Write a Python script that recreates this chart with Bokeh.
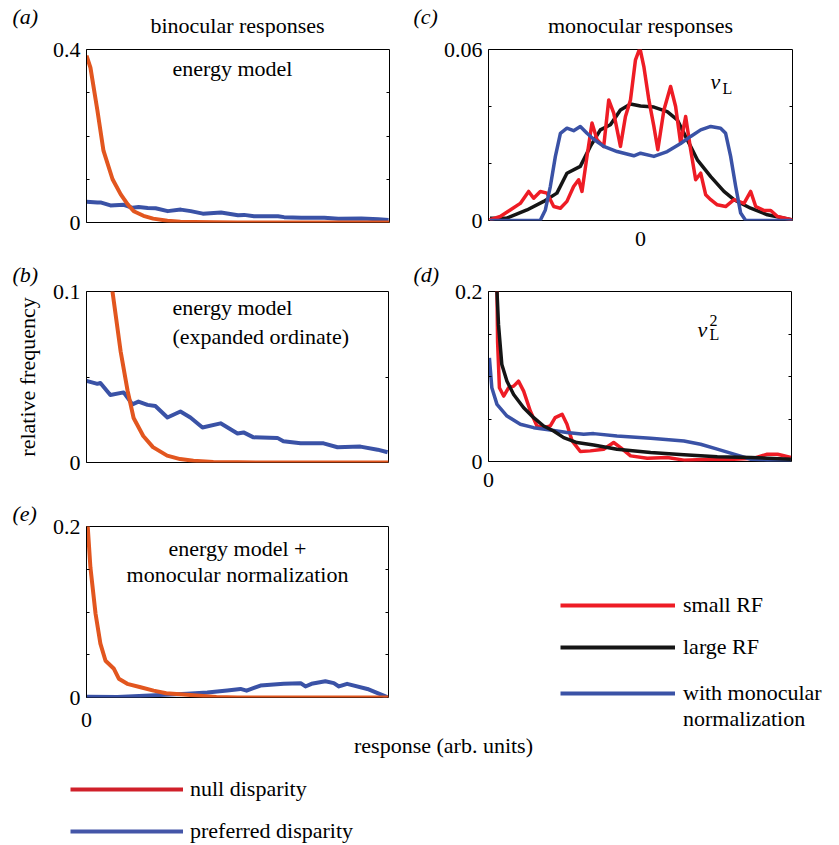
import math
from bokeh.plotting import figure
from bokeh.layouts import column, row
from bokeh.models import LinearAxis, FixedTicker, Label, Legend, LegendItem, Range1d
from bokeh.embed import file_html
from bokeh.resources import INLINE

FONT = "Liberation Serif, Times New Roman, serif"
FS = "22px"
ORANGE = "#E2561F"
BLUE = "#3A52A6"
RED = "#EE1C25"
BLACK = "#151515"
LEG_RED = "#D0202A"
LEG_BLUE = "#4456A8"
NAN = float("nan")

# ---------------- data ----------------
# (a)/(b) energy model, null disparity
energy_null_x = [0, 0.013, 0.036, 0.056, 0.086, 0.113, 0.136, 0.156, 0.188, 0.22,
                 0.267, 0.31, 0.354, 0.42, 0.5, 0.6, 0.7, 0.8, 0.9, 1.0]
energy_null_y = [0.386, 0.358, 0.259, 0.166, 0.100, 0.065, 0.042, 0.026, 0.0155, 0.009,
                 0.004, 0.002, 0.001, 0.0003, 0.0001, 0, 0, 0, 0, 0]
# (a)/(b) energy model, preferred disparity
energy_pref_x = [0.0, 0.036, 0.046, 0.079, 0.123, 0.152, 0.172, 0.202, 0.228, 0.268,
                 0.311, 0.344, 0.384, 0.444, 0.5, 0.52, 0.553, 0.632, 0.652, 0.709,
                 0.785, 0.831, 0.907, 0.964, 0.997]
energy_pref_y = [0.0477, 0.046, 0.0465, 0.0395, 0.041, 0.034, 0.0356, 0.0337, 0.033, 0.0263,
                 0.0298, 0.0263, 0.0205, 0.0229, 0.017, 0.0176, 0.0147, 0.0144, 0.0124, 0.0112,
                 0.0112, 0.0089, 0.0093, 0.0075, 0.006]
# (e) energy model + monocular normalization
norm_null_x = [0.0, 0.004, 0.013, 0.030, 0.046, 0.063, 0.090, 0.107, 0.135, 0.179,
               0.222, 0.264, 0.354, 0.43, 0.5, 0.6, 0.7, 0.8, 0.9, 1.0]
norm_null_y = [0.25, 0.2, 0.152, 0.098, 0.063, 0.043, 0.034, 0.022, 0.016, 0.012,
               0.008, 0.005, 0.0027, 0.0005, 0, 0, 0, 0, 0, 0]
norm_pref_x = [0.0, 0.102, 0.21, 0.333, 0.40, 0.466, 0.51, 0.53, 0.576, 0.653,
               0.709, 0.725, 0.745, 0.791, 0.819, 0.836, 0.863, 0.93, 0.996]
norm_pref_y = [0.001, 0.0005, 0.0023, 0.0043, 0.0058, 0.0082, 0.010, 0.008, 0.014, 0.016,
               0.0168, 0.0129, 0.016, 0.019, 0.0168, 0.0129, 0.016, 0.010, 0.0004]
# (c) monocular responses v_L
mono_small_x = [-0.993, -0.923, -0.857, -0.791, -0.736, -0.703, -0.659, -0.615, -0.571, -0.527,
                -0.484, -0.44, -0.407, -0.385, -0.352, -0.319, -0.286, -0.242, -0.209, -0.176,
                -0.132, -0.099, -0.066, -0.033, -0.004, 0.022, 0.055, 0.088, 0.114, 0.154,
                0.198, 0.231, 0.264, 0.297, 0.33, 0.363, 0.396, 0.429, 0.462, 0.505,
                0.56, 0.615, 0.681, 0.725, 0.758, 0.813, 0.857, 0.901, 1.0]
mono_small_y = [0.0002, 0.0014, 0.0037, 0.006, 0.0102, 0.0078, 0.0102, 0.0096, 0.0049, 0.0043,
                0.0067, 0.0119, 0.0143, 0.0102, 0.0225, 0.0342, 0.0283, 0.026, 0.0423, 0.0377,
                0.026, 0.0365, 0.0423, 0.0564, 0.0605, 0.054, 0.0423, 0.033, 0.0248, 0.0388,
                0.047, 0.040, 0.0271, 0.0365, 0.0248, 0.0143, 0.0166, 0.009, 0.0073, 0.0055,
                0.0049, 0.0073, 0.006, 0.0102, 0.0049, 0.0035, 0.0035, 0.0014, 0.0002]
mono_large_x = [-0.99, -0.88, -0.747, -0.637, -0.55, -0.484, -0.396, -0.33, -0.264, -0.198,
                -0.132, -0.066, 0.0, 0.088, 0.176, 0.242, 0.308, 0.374, 0.462, 0.549,
                0.615, 0.725, 0.835, 1.0]
mono_large_y = [0.0008, 0.0008, 0.0037, 0.0067, 0.0096, 0.0166, 0.019, 0.026, 0.0318, 0.0336,
                0.0388, 0.0409, 0.0402, 0.0398, 0.0382, 0.0353, 0.0283, 0.0213, 0.0154, 0.0102,
                0.0073, 0.0043, 0.002, 0.0002]
mono_norm_x = [-0.99, -0.66, -0.626, -0.593, -0.56, -0.527, -0.484, -0.44, -0.396, -0.352,
               -0.308, -0.242, -0.154, -0.044, 0.0, 0.088, 0.176, 0.264, 0.33, 0.396,
               0.462, 0.527, 0.56, 0.593, 0.626, 0.659, 0.692, 1.0]
mono_norm_y = [0, 0, 0.0037, 0.012, 0.0225, 0.0306, 0.0324, 0.0315, 0.033, 0.0306,
               0.0285, 0.026, 0.0242, 0.0227, 0.0236, 0.0225, 0.0242, 0.027, 0.0295, 0.0318,
               0.033, 0.0324, 0.0306, 0.0225, 0.012, 0.0026, 0, 0]
# (d) squared monocular responses v_L^2
sq_small_x = [0.025, 0.028, 0.03, 0.036, 0.05, 0.066, 0.083, 0.099, 0.116, 0.138,
              0.16, 0.182, 0.204, 0.22, 0.243, 0.259, 0.276, 0.303, 0.336, 0.38,
              0.413, 0.436, 0.469, 0.524, 0.59, 0.645, 0.733, 0.81, 0.877, 0.92,
              0.954, 0.998]
sq_small_y = [0.26, 0.2, 0.141, 0.0867, 0.077, 0.0867, 0.0887, 0.0945, 0.0828, 0.0594,
              0.0418, 0.0398, 0.0418, 0.0516, 0.0555, 0.0438, 0.0242, 0.0117, 0.0125, 0.0145,
              0.0223, 0.0164, 0.0066, 0.0039, 0.0047, 0.0016, 0.0027, 0.0027, 0.0039, 0.0086,
              0.0086, 0.0047]
sq_large_x = [0.025, 0.028, 0.033, 0.044, 0.061, 0.083, 0.116, 0.149, 0.182, 0.215,
              0.248, 0.292, 0.347, 0.424, 0.535, 0.645, 0.755, 0.866, 0.998]
sq_large_y = [0.26, 0.2, 0.161, 0.114, 0.0945, 0.0789, 0.0633, 0.0516, 0.0418, 0.0359,
              0.0281, 0.0223, 0.0195, 0.0145, 0.0105, 0.0078, 0.0055, 0.0047, 0.0027]
sq_norm_x = [0.003, 0.011, 0.028, 0.061, 0.105, 0.149, 0.204, 0.259, 0.314, 0.347,
             0.424, 0.535, 0.645, 0.7, 0.755, 0.81, 0.866, 0.92, 0.998]
sq_norm_y = [0.122, 0.0867, 0.0672, 0.0535, 0.0438, 0.0398, 0.0371, 0.034, 0.032, 0.0328,
             0.0301, 0.0273, 0.0242, 0.0203, 0.0145, 0.0086, 0.0027, 0.0016, 0.0008]

# axis tick labels
a_ylabels = {0: "0", 0.4: "0.4"}
b_ylabels = {0: "0", 0.1: "0.1"}
c_ylabels = {0: "0", 0.06: "0.06"}
d_ylabels = {0: "0", 0.2: "0.2"}
e_ylabels = {0: "0", 0.2: "0.2"}


def base_fig(w, h, xr=(0, 1), yr=(0, 1), **kw):
    p = figure(width=w, height=h, x_range=Range1d(*xr), y_range=Range1d(*yr),
               output_backend="svg", toolbar_location=None,
               x_axis_location=None, y_axis_location=None, **kw)
    p.grid.visible = False
    p.frame_align = False
    p.background_fill_color = "white"
    p.border_fill_color = "white"
    return p


def panel(w, h, ml, mt, fw, fh, xr, yr, ylabels, yminor, xticks=None, xstand=5,
          ylabel=None, tag=None, tag_standoff=10):
    p = base_fig(w, h, xr, yr, min_border_left=ml, min_border_top=mt,
                 min_border_right=w - ml - fw, min_border_bottom=h - mt - fh)
    p.outline_line_color = "black"
    p.outline_line_width = 1
    if tag:
        p.title.text = tag
        p.title.align = "left"
        p.title.offset = 12 - ml if ml == 86 else 3 - ml
        p.title.standoff = tag_standoff
        p.title.text_font = FONT
        p.title.text_font_size = FS
        p.title.text_font_style = "italic"
        p.title.text_color = "black"
    yt = list(ylabels.keys())
    left = LinearAxis(ticker=FixedTicker(ticks=yt, minor_ticks=yminor),
                      major_label_overrides=ylabels,
                      major_tick_in=0, major_tick_out=0,
                      minor_tick_in=3, minor_tick_out=0,
                      minor_tick_line_color="black", minor_tick_line_width=1,
                      axis_line_color="black", major_label_standoff=6,
                      major_label_text_font=FONT, major_label_text_font_size=FS,
                      major_label_text_color="black")
    if ylabel:
        left.axis_label = ylabel
        left.axis_label_text_font = FONT
        left.axis_label_text_font_size = FS
        left.axis_label_text_font_style = "normal"
        left.axis_label_text_color = "black"
        left.axis_label_standoff = 10
    p.add_layout(left, "left")
    right = LinearAxis(ticker=FixedTicker(ticks=[], minor_ticks=yminor),
                       major_tick_in=0, major_tick_out=0,
                       minor_tick_in=3, minor_tick_out=0,
                       minor_tick_line_color="black", minor_tick_line_width=1,
                       axis_line_color=None, major_label_standoff=0,
                       major_label_text_font_size="0px")
    p.add_layout(right, "right")
    if xticks is not None:
        bottom = LinearAxis(ticker=FixedTicker(ticks=xticks),
                            major_label_overrides={t: str(t) for t in xticks},
                            major_tick_in=0, major_tick_out=0,
                            minor_tick_in=0, minor_tick_out=0,
                            axis_line_color=None, major_label_standoff=xstand,
                            major_label_text_font=FONT, major_label_text_font_size=FS,
                            major_label_text_color="black")
        p.add_layout(bottom, "below")
    return p


def lab(p, FL, FB, px, py, text, align="left", size=FS, style="normal", angle=0.0):
    # px, py: page position; FL, FB: page position of the frame's left / bottom edge
    p.add_layout(Label(x=px - FL, y=FB - py, x_units="screen", y_units="screen",
                       text=text, text_font=FONT, text_font_size=size,
                       text_font_style=style, text_align=align,
                       text_baseline="middle", angle=angle, text_color="black"))


LW = 4
LW2 = 3.5
TOTAL_W = 838
LEFT_W = 410
RIGHT_W = TOTAL_W - LEFT_W

# header 1: page y 0..37
h1 = base_fig(TOTAL_W, 37, min_border=0)
h1.outline_line_color = None
lab(h1, 0, 37, 12, 16, "(a)", style="italic")
lab(h1, 0, 37, 237, 25, "binocular responses", align="center")
lab(h1, 0, 37, 413, 16, "(c)", style="italic")
lab(h1, 0, 37, 640, 25, "monocular responses", align="center")

# row 1: page y 37..254
fa = panel(LEFT_W, 217, 86, 12, 303, 173, (0, 1), (0, 0.4), a_ylabels, [0.1, 0.2, 0.3])
fa.line(energy_pref_x, energy_pref_y, line_color=BLUE, line_width=LW, line_join="round")
fa.line(energy_null_x, energy_null_y, line_color=ORANGE, line_width=LW, line_join="round")
lab(fa, 86, 222, 172, 68, "energy model")

fc = panel(RIGHT_W, 217, 78, 12, 304, 171, (-1, 1), (0, 0.06), c_ylabels, [0.02, 0.04],
           xticks=[0], xstand=11)
fc.line(mono_large_x, mono_large_y, line_color=BLACK, line_width=LW2, line_join="round")
fc.line(mono_small_x, mono_small_y, line_color=RED, line_width=LW2, line_join="round")
fc.line(mono_norm_x, mono_norm_y, line_color=BLUE, line_width=LW2, line_join="round")
lab(fc, 488, 220, 710, 81, "v", style="italic")
lab(fc, 488, 220, 722, 88, "L", size="16px")

# row 2: page y 254..498
fb = panel(LEFT_W, 244, 86, 36, 302, 172, (0, 1), (0, 0.1), b_ylabels, [0.05],
           ylabel="relative frequency", tag="(b)", tag_standoff=10)
fb.line(energy_pref_x, energy_pref_y, line_color=BLUE, line_width=LW, line_join="round")
fb.line(energy_null_x, energy_null_y, line_color=ORANGE, line_width=LW, line_join="round")
lab(fb, 86, 462, 172, 307, "energy model")
lab(fb, 86, 462, 172, 336, "(expanded ordinate)")

fd = panel(RIGHT_W, 244, 78, 36, 303, 171, (0, 1), (0, 0.2), d_ylabels, [0.05, 0.1, 0.15],
           xticks=[0], xstand=11, tag="(d)", tag_standoff=10)
fd.line(sq_small_x, sq_small_y, line_color=RED, line_width=LW2, line_join="round")
fd.line(sq_norm_x, sq_norm_y, line_color=BLUE, line_width=LW2, line_join="round")
fd.line(sq_large_x, sq_large_y, line_color=BLACK, line_width=LW2, line_join="round")
lab(fd, 488, 461, 697, 329, "v", style="italic")
lab(fd, 488, 461, 709, 320, "2", size="16px")
lab(fd, 488, 461, 709, 334, "L", size="16px")

# row 3: page y 498..732
fe = panel(LEFT_W, 234, 86, 28, 302, 171, (0, 1), (0, 0.2), e_ylabels, [0.05, 0.1, 0.15],
           xticks=[0], xstand=15, tag="(e)", tag_standoff=1)
fe.line(norm_pref_x, norm_pref_y, line_color=BLUE, line_width=LW, line_join="round")
fe.line(norm_null_x, norm_null_y, line_color=ORANGE, line_width=LW, line_join="round")
lab(fe, 86, 697, 237, 548, "energy model +", align="center")
lab(fe, 86, 697, 237, 574, "monocular normalization", align="center")

# legend for (c)/(d)
fleg = base_fig(RIGHT_W, 234, min_border=0)
fleg.outline_line_color = None
r_small = fleg.line(x=[NAN], y=[NAN], line_color=RED, line_width=4)
r_large = fleg.line(x=[NAN], y=[NAN], line_color=BLACK, line_width=4)
r_norm = fleg.line(x=[NAN], y=[NAN], line_color=BLUE, line_width=4)
r_none = fleg.line(x=[NAN], y=[NAN], line_color=BLUE, line_width=4, line_alpha=0)


def make_legend(items, loc, gw, standoff, spacing, h):
    return Legend(items=items, location=loc, orientation="vertical",
                  glyph_width=gw, glyph_height=h, label_height=h,
                  label_standoff=standoff, spacing=spacing, padding=0, margin=0,
                  border_line_color=None, background_fill_alpha=0,
                  label_text_font=FONT, label_text_font_size=FS,
                  label_text_color="black", label_text_baseline="middle")


leg1 = make_legend([LegendItem(label="small RF", renderers=[r_small]),
                    LegendItem(label="large RF", renderers=[r_large])],
                   (150, 72), 115, 8, 16, 24)
leg2 = make_legend([LegendItem(label="with monocular", renderers=[r_norm]),
                    LegendItem(label="normalization", renderers=[r_none])],
                   (150, 0), 115, 8, 0, 20)
fleg.add_layout(leg1)
fleg.add_layout(leg2)

# bottom strip: x label + legend, page y 732..844
fbot = base_fig(TOTAL_W, 112, min_border=0)
fbot.outline_line_color = None
r_null = fbot.line(x=[NAN], y=[NAN], line_color=LEG_RED, line_width=4)
r_pref = fbot.line(x=[NAN], y=[NAN], line_color=LEG_BLUE, line_width=4)
leg3 = make_legend([LegendItem(label="null disparity", renderers=[r_null]),
                    LegendItem(label="preferred disparity", renderers=[r_pref])],
                   (70, 0), 113, 7, 16, 24)
fbot.add_layout(leg3)
lab(fbot, 0, 844, 443, 745, "response (arb. units)", align="center")

layout = column(h1, row(fa, fc), row(fb, fd), row(fe, fleg), fbot)

open("out.html", "w").write(file_html(layout, INLINE))
